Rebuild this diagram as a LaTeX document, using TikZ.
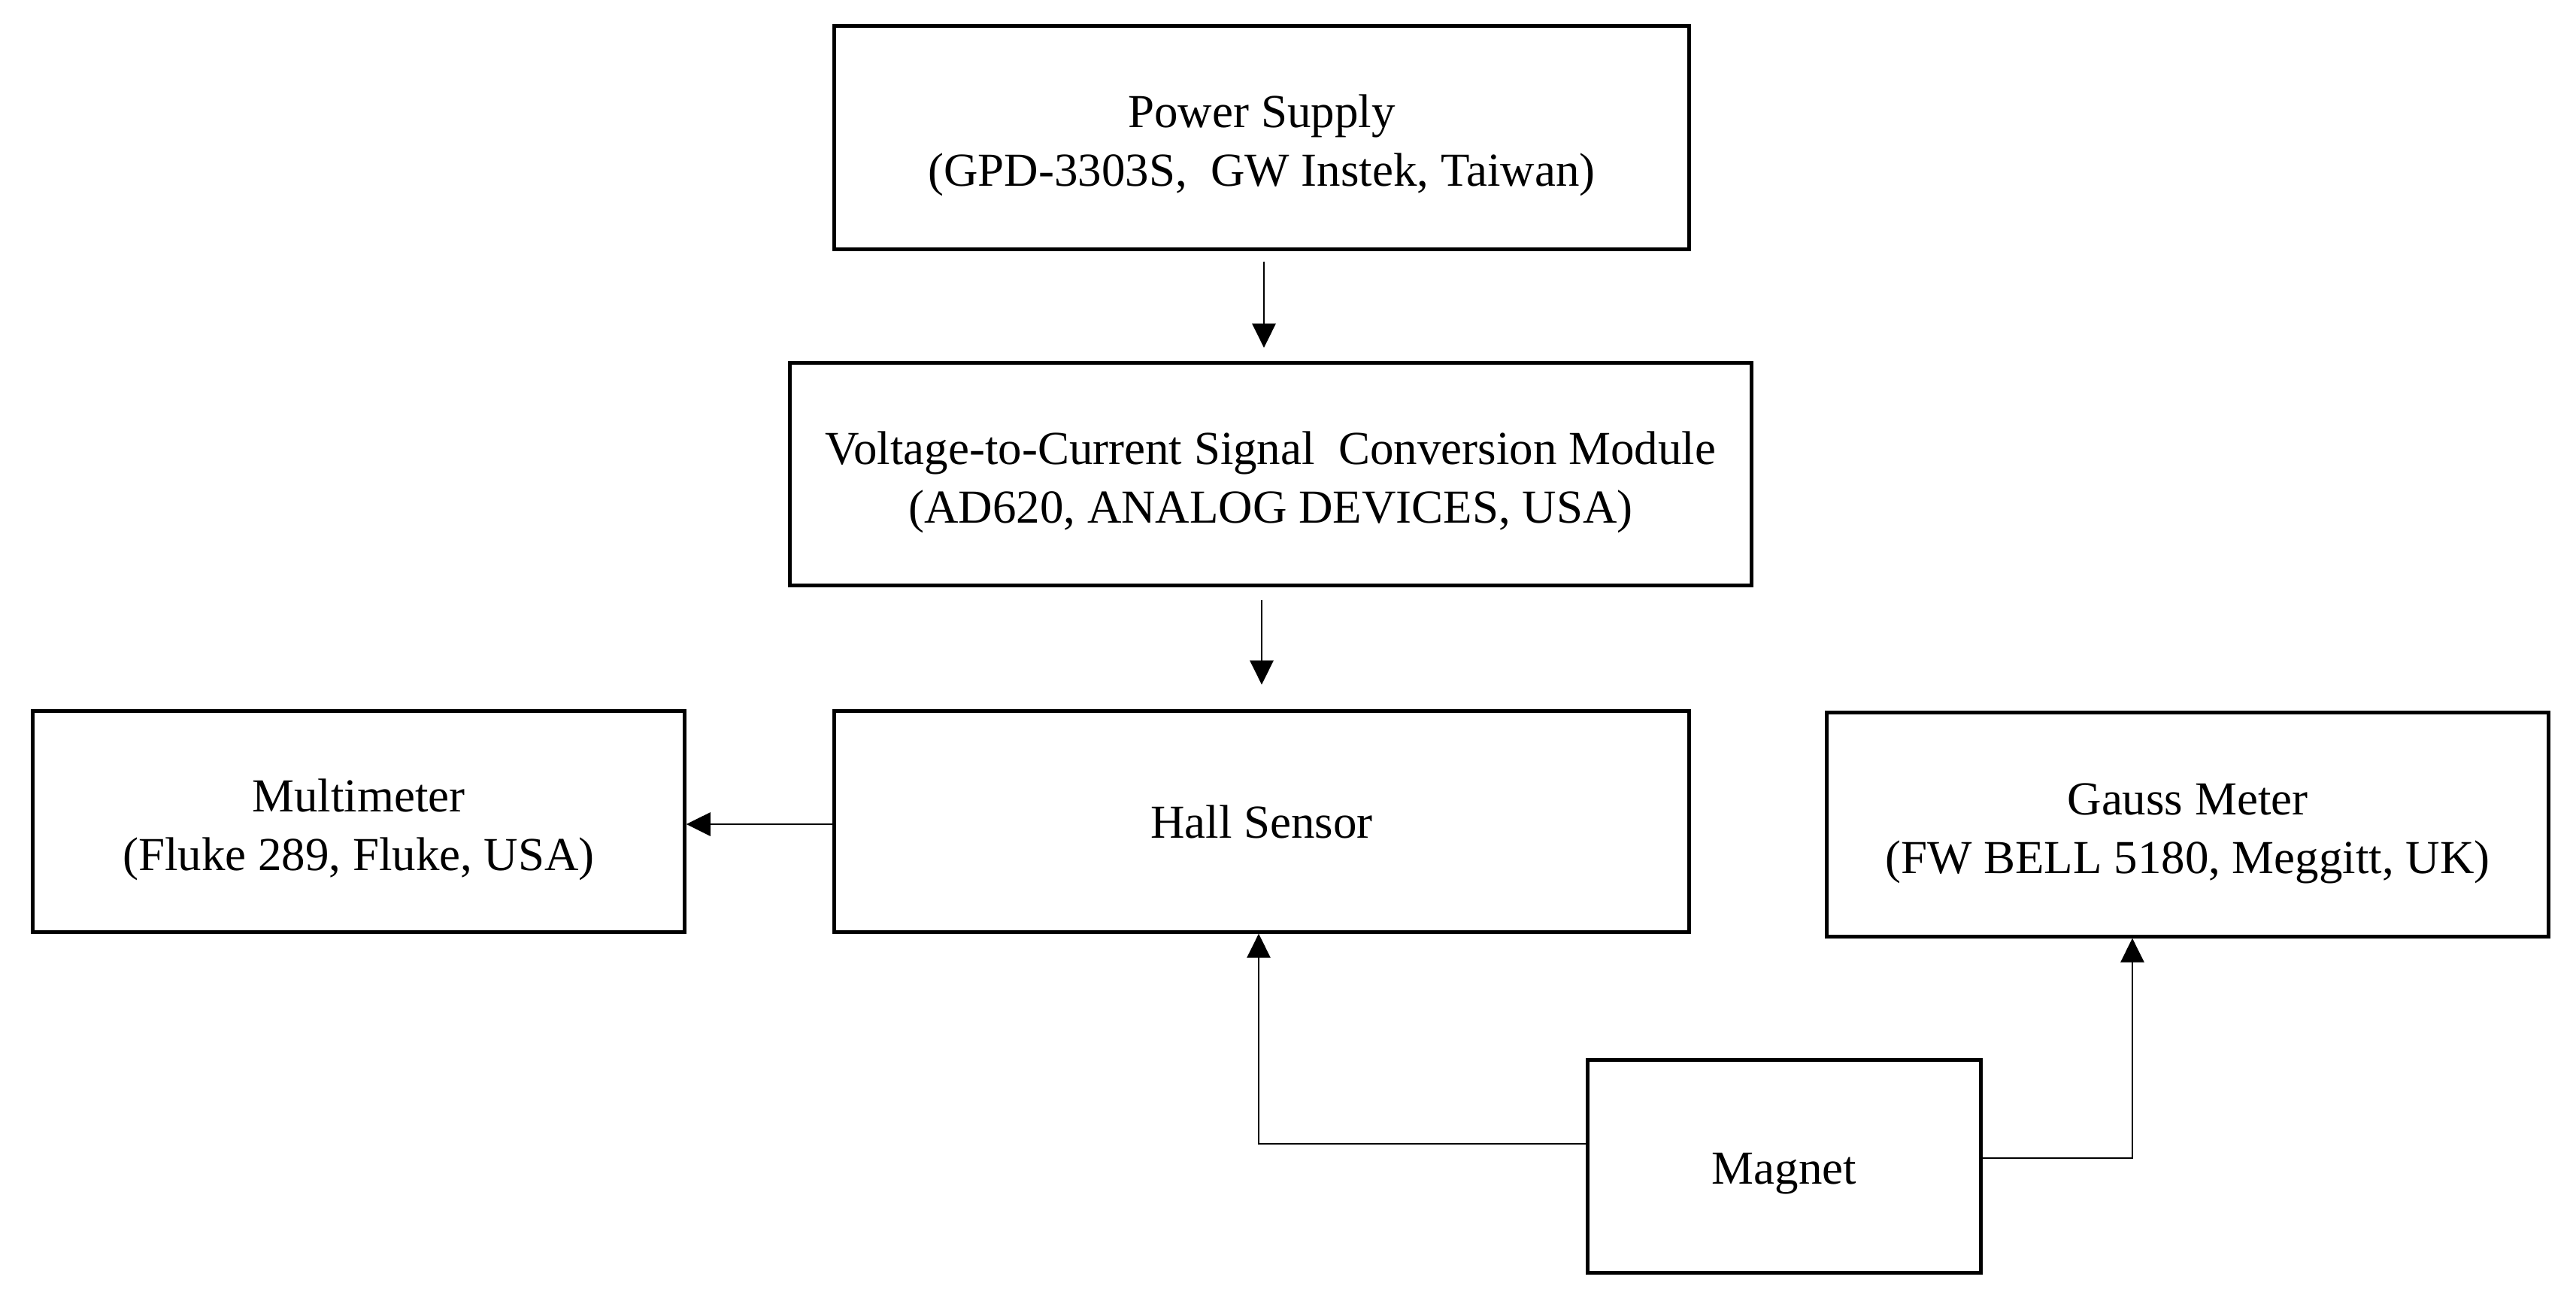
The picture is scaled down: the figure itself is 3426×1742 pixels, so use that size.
\documentclass[tikz,border=0pt]{standalone}
\usepackage{fontspec}
\setmainfont{Liberation Serif}
\usetikzlibrary{arrows.meta}
\newcommand{\toplift}{\rule{0pt}{18.5pt}}
\begin{document}
\begin{tikzpicture}[x=0.01cm,y=-0.01cm,
  box/.style={draw=black,line width=0.05cm,inner sep=0pt,align=center,
    font=\fontsize{17.9}{22.2}\selectfont},
  arr/.style={draw=black,line width=0.028cm,-{Triangle[length=0.32cm,width=0.31cm]}}]
\path[use as bounding box] (0,0) rectangle (3426,1742);
\node[box,minimum width=11.36cm,minimum height=2.96cm] (ps) at (1678,183) {\toplift Power Supply\\(GPD-3303S,\ \ GW Instek, Taiwan)};
\node[box,minimum width=12.78cm,minimum height=2.95cm] (vc) at (1690,630.5) {\toplift Voltage-to-Current Signal\ \ Conversion Module\\(AD620, ANALOG DEVICES, USA)};
\node[box,minimum width=11.36cm,minimum height=2.93cm] (hall) at (1678,1092.5) {Hall Sensor};
\node[box,minimum width=8.66cm,minimum height=2.93cm] (multi) at (477,1092.5) {\toplift Multimeter\\(Fluke 289, Fluke, USA)};
\node[box,minimum width=9.59cm,minimum height=2.97cm] (gauss) at (2909.5,1096.5) {\toplift Gauss Meter\\(FW BELL 5180, Meggitt, UK)};
\node[box,minimum width=5.22cm,minimum height=2.82cm] (mag) at (2373,1551) {\rule{0pt}{17pt}Magnet};
\draw[arr,shorten <=0.14cm,shorten >=0.18cm] ([xshift=0.03cm]ps.south) -- ([xshift=0.03cm]ps.south |- vc.north);
\draw[arr,shorten <=0.17cm,shorten >=0.33cm] (hall.north |- vc.south) -- (hall.north);
\draw[arr] ([yshift=-0.035cm]hall.west) -- ([yshift=-0.035cm]multi.east);
\draw[arr] ([yshift=0.30cm]mag.west) -| ([xshift=-0.04cm]hall.south);
\draw[arr] ([yshift=0.11cm]mag.east) -| ([xshift=-0.735cm]gauss.south);
\end{tikzpicture}
\end{document}
